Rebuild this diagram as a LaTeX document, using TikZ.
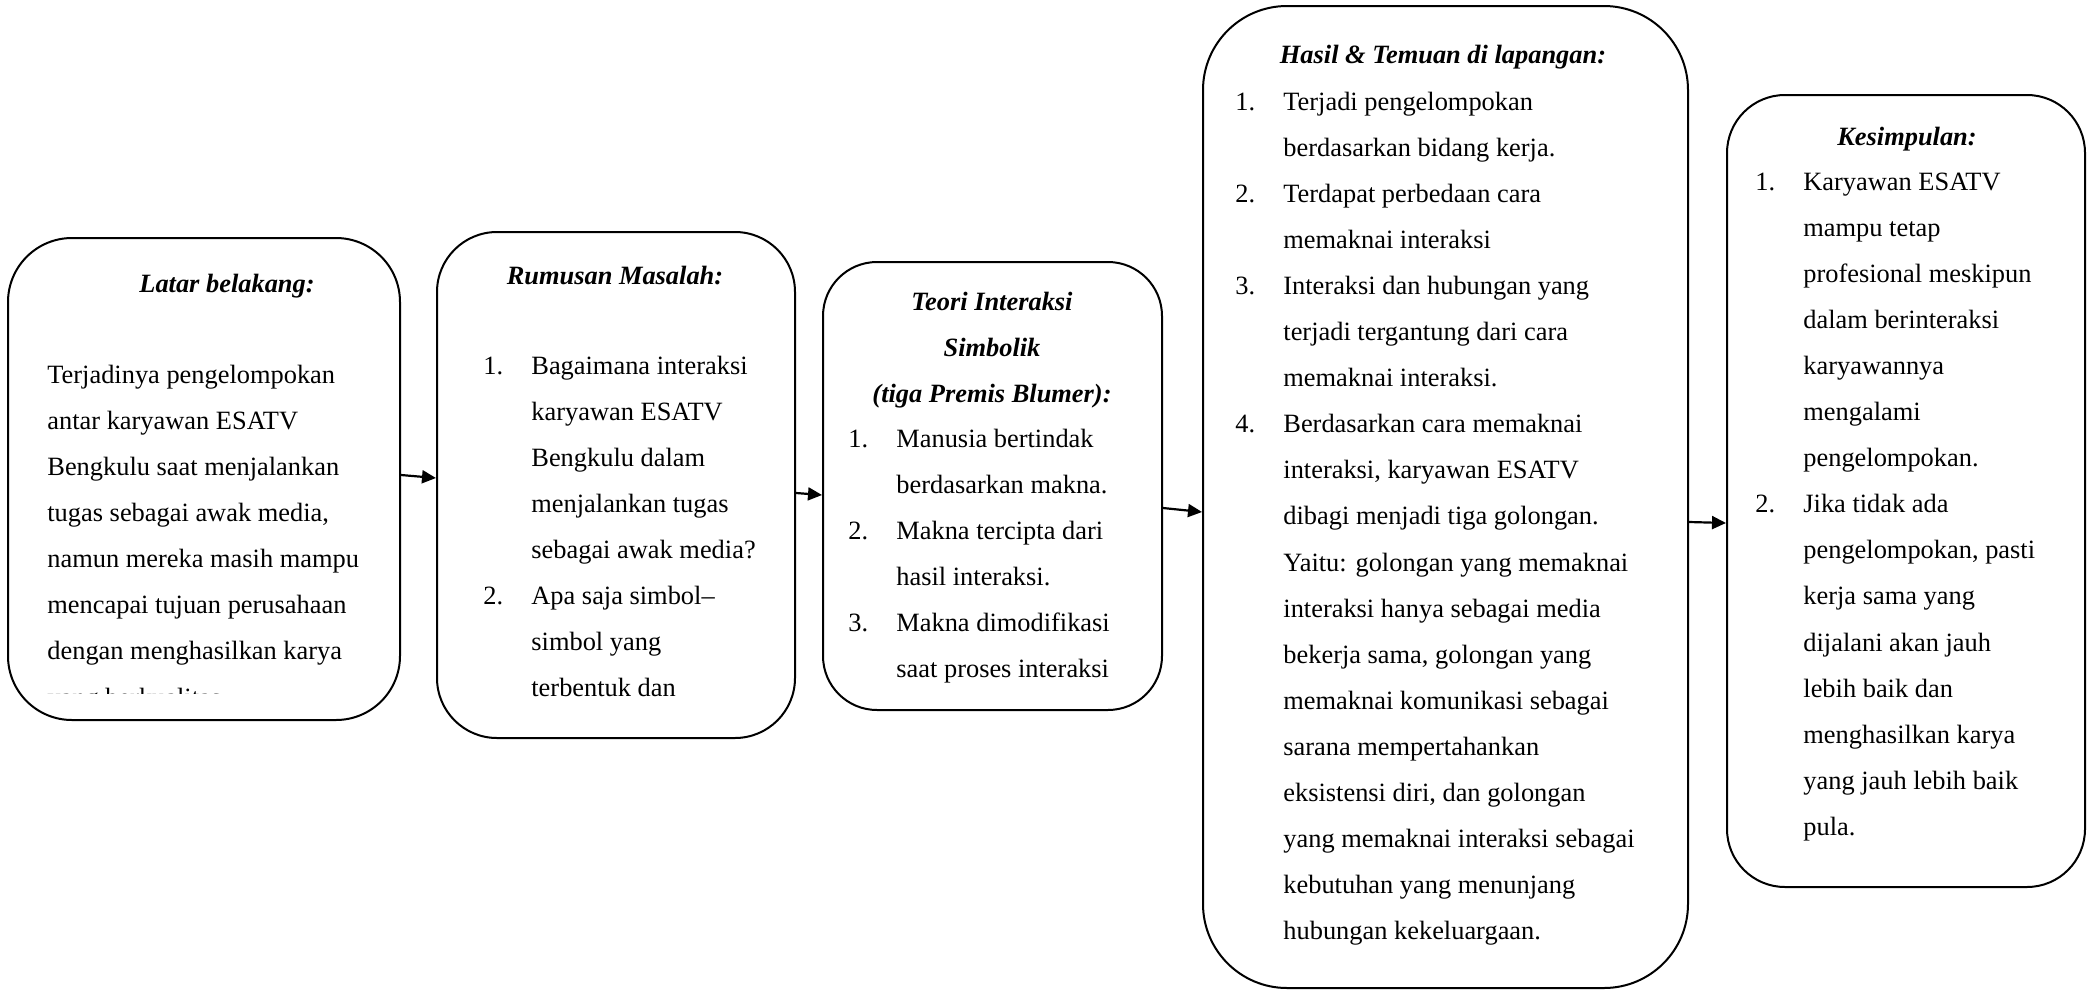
\documentclass[tikz,border=0pt]{standalone}
\usepackage{fontspec}
\setmainfont{Liberation Serif}
\usetikzlibrary{arrows.meta}
\newcommand{\numi}[1]{\makebox[24pt][l]{#1}}
\newcommand{\cnt}{\hspace*{24pt}}
\newcommand{\hd}[1]{\textbf{\textit{#1}}}
\begin{document}
\begin{tikzpicture}[x=0.5pt,y=-0.5pt,
  box/.style={draw, line width=1pt, rectangle, inner sep=0pt},
  txt/.style={inner sep=0pt, font=\fontsize{13.2}{23.05}\selectfont},
  arr/.style={line width=1.1pt, -{Triangle[length=7pt,width=6.5pt]}}]
\useasboundingbox (0,0) rectangle (2089,991);

% boxes
\node[box, minimum width=196pt, minimum height=241pt, rounded corners=32pt] (b1) at (204,479) {};
\node[box, minimum width=179pt, minimum height=253pt, rounded corners=30pt] (b2) at (616,485) {};
\node[box, minimum width=169.5pt, minimum height=224pt, rounded corners=27pt] (b3) at (992.5,486) {};
\node[box, minimum width=242.5pt, minimum height=491pt, rounded corners=42pt] (b4) at (1445.5,497) {};
\node[box, minimum width=179pt, minimum height=396pt, rounded corners=29pt] (b5) at (1906,491) {};

% box 1
\node[txt, anchor=base] (h1) at (227,292) {\hd{Latar belakang:}};
\node[txt, anchor=base west] (t1) at (47,383) {\begin{tabular}[t]{@{}l@{}}
Terjadinya pengelompokan\\
antar karyawan ESATV\\
Bengkulu saat menjalankan\\
tugas sebagai awak media,\\
namun mereka masih mampu\\
mencapai tujuan perusahaan\\
dengan menghasilkan karya
\end{tabular}};
\begin{scope}
\clip (0,600) rectangle (420,693);
\node[txt, anchor=base west] (t1c) at (47,706) {yang berkualitas.};
\end{scope}

% box 2
\node[txt, anchor=base] (h2) at (615,284) {\hd{Rumusan Masalah:}};
\node[txt, anchor=base west] (t2) at (483,374) {\begin{tabular}[t]{@{}l@{}}
\numi{1.}Bagaimana interaksi\\
\cnt karyawan ESATV\\
\cnt Bengkulu dalam\\
\cnt menjalankan tugas\\
\cnt sebagai awak media?\\
\numi{2.}Apa saja simbol\textendash\\
\cnt simbol yang\\
\cnt terbentuk dan
\end{tabular}};

% box 3
\node[txt, anchor=base] (h3) at (992,310) {\begin{tabular}[t]{@{}c@{}}
\hd{Teori Interaksi}\\
\hd{Simbolik}\\
\hd{(tiga Premis Blumer):}
\end{tabular}};
\node[txt, anchor=base west] (t3) at (848,447) {\begin{tabular}[t]{@{}l@{}}
\numi{1.}Manusia bertindak\\
\cnt berdasarkan makna.\\
\numi{2.}Makna tercipta dari\\
\cnt hasil interaksi.\\
\numi{3.}Makna dimodifikasi\\
\cnt saat proses interaksi
\end{tabular}};

% box 4
\node[txt, anchor=base] (h4) at (1443,63) {\hd{Hasil \& Temuan di lapangan:}};
\node[txt, anchor=base west] (t4) at (1235,110) {\begin{tabular}[t]{@{}l@{}}
\numi{1.}Terjadi pengelompokan\\
\cnt berdasarkan bidang kerja.\\
\numi{2.}Terdapat perbedaan cara\\
\cnt memaknai interaksi\\
\numi{3.}Interaksi dan hubungan yang\\
\cnt terjadi tergantung dari cara\\
\cnt memaknai interaksi.\\
\numi{4.}Berdasarkan cara memaknai\\
\cnt interaksi, karyawan ESATV\\
\cnt dibagi menjadi tiga golongan.\\
\cnt Yaitu: golongan yang memaknai\\
\cnt interaksi hanya sebagai media\\
\cnt bekerja sama, golongan yang\\
\cnt memaknai komunikasi sebagai\\
\cnt sarana mempertahankan\\
\cnt eksistensi diri, dan golongan\\
\cnt yang memaknai interaksi sebagai\\
\cnt kebutuhan yang menunjang\\
\cnt hubungan kekeluargaan.
\end{tabular}};

% box 5
\node[txt, anchor=base] (h5) at (1907,145) {\hd{Kesimpulan:}};
\node[txt, anchor=base west] (t5) at (1755,190) {\begin{tabular}[t]{@{}l@{}}
\numi{1.}Karyawan ESATV\\
\cnt mampu tetap\\
\cnt profesional meskipun\\
\cnt dalam berinteraksi\\
\cnt karyawannya\\
\cnt mengalami\\
\cnt pengelompokan.\\
\numi{2.}Jika tidak ada\\
\cnt pengelompokan, pasti\\
\cnt kerja sama yang\\
\cnt dijalani akan jauh\\
\cnt lebih baik dan\\
\cnt menghasilkan karya\\
\cnt yang jauh lebih baik\\
\cnt pula.
\end{tabular}};

% arrows
\draw[arr] ([yshift=2pt]b1.east) -- ([yshift=3.5pt]b2.west);
\draw[arr] ([yshift=-4pt]b2.east) -- ([yshift=-4.5pt]b3.west);
\draw[arr] ([yshift=-11pt]b3.east) -- ([yshift=-7.5pt]b4.west);
\draw[arr] ([yshift=-12.5pt]b4.east) -- ([yshift=-16pt]b5.west);
\end{tikzpicture}
\end{document}
